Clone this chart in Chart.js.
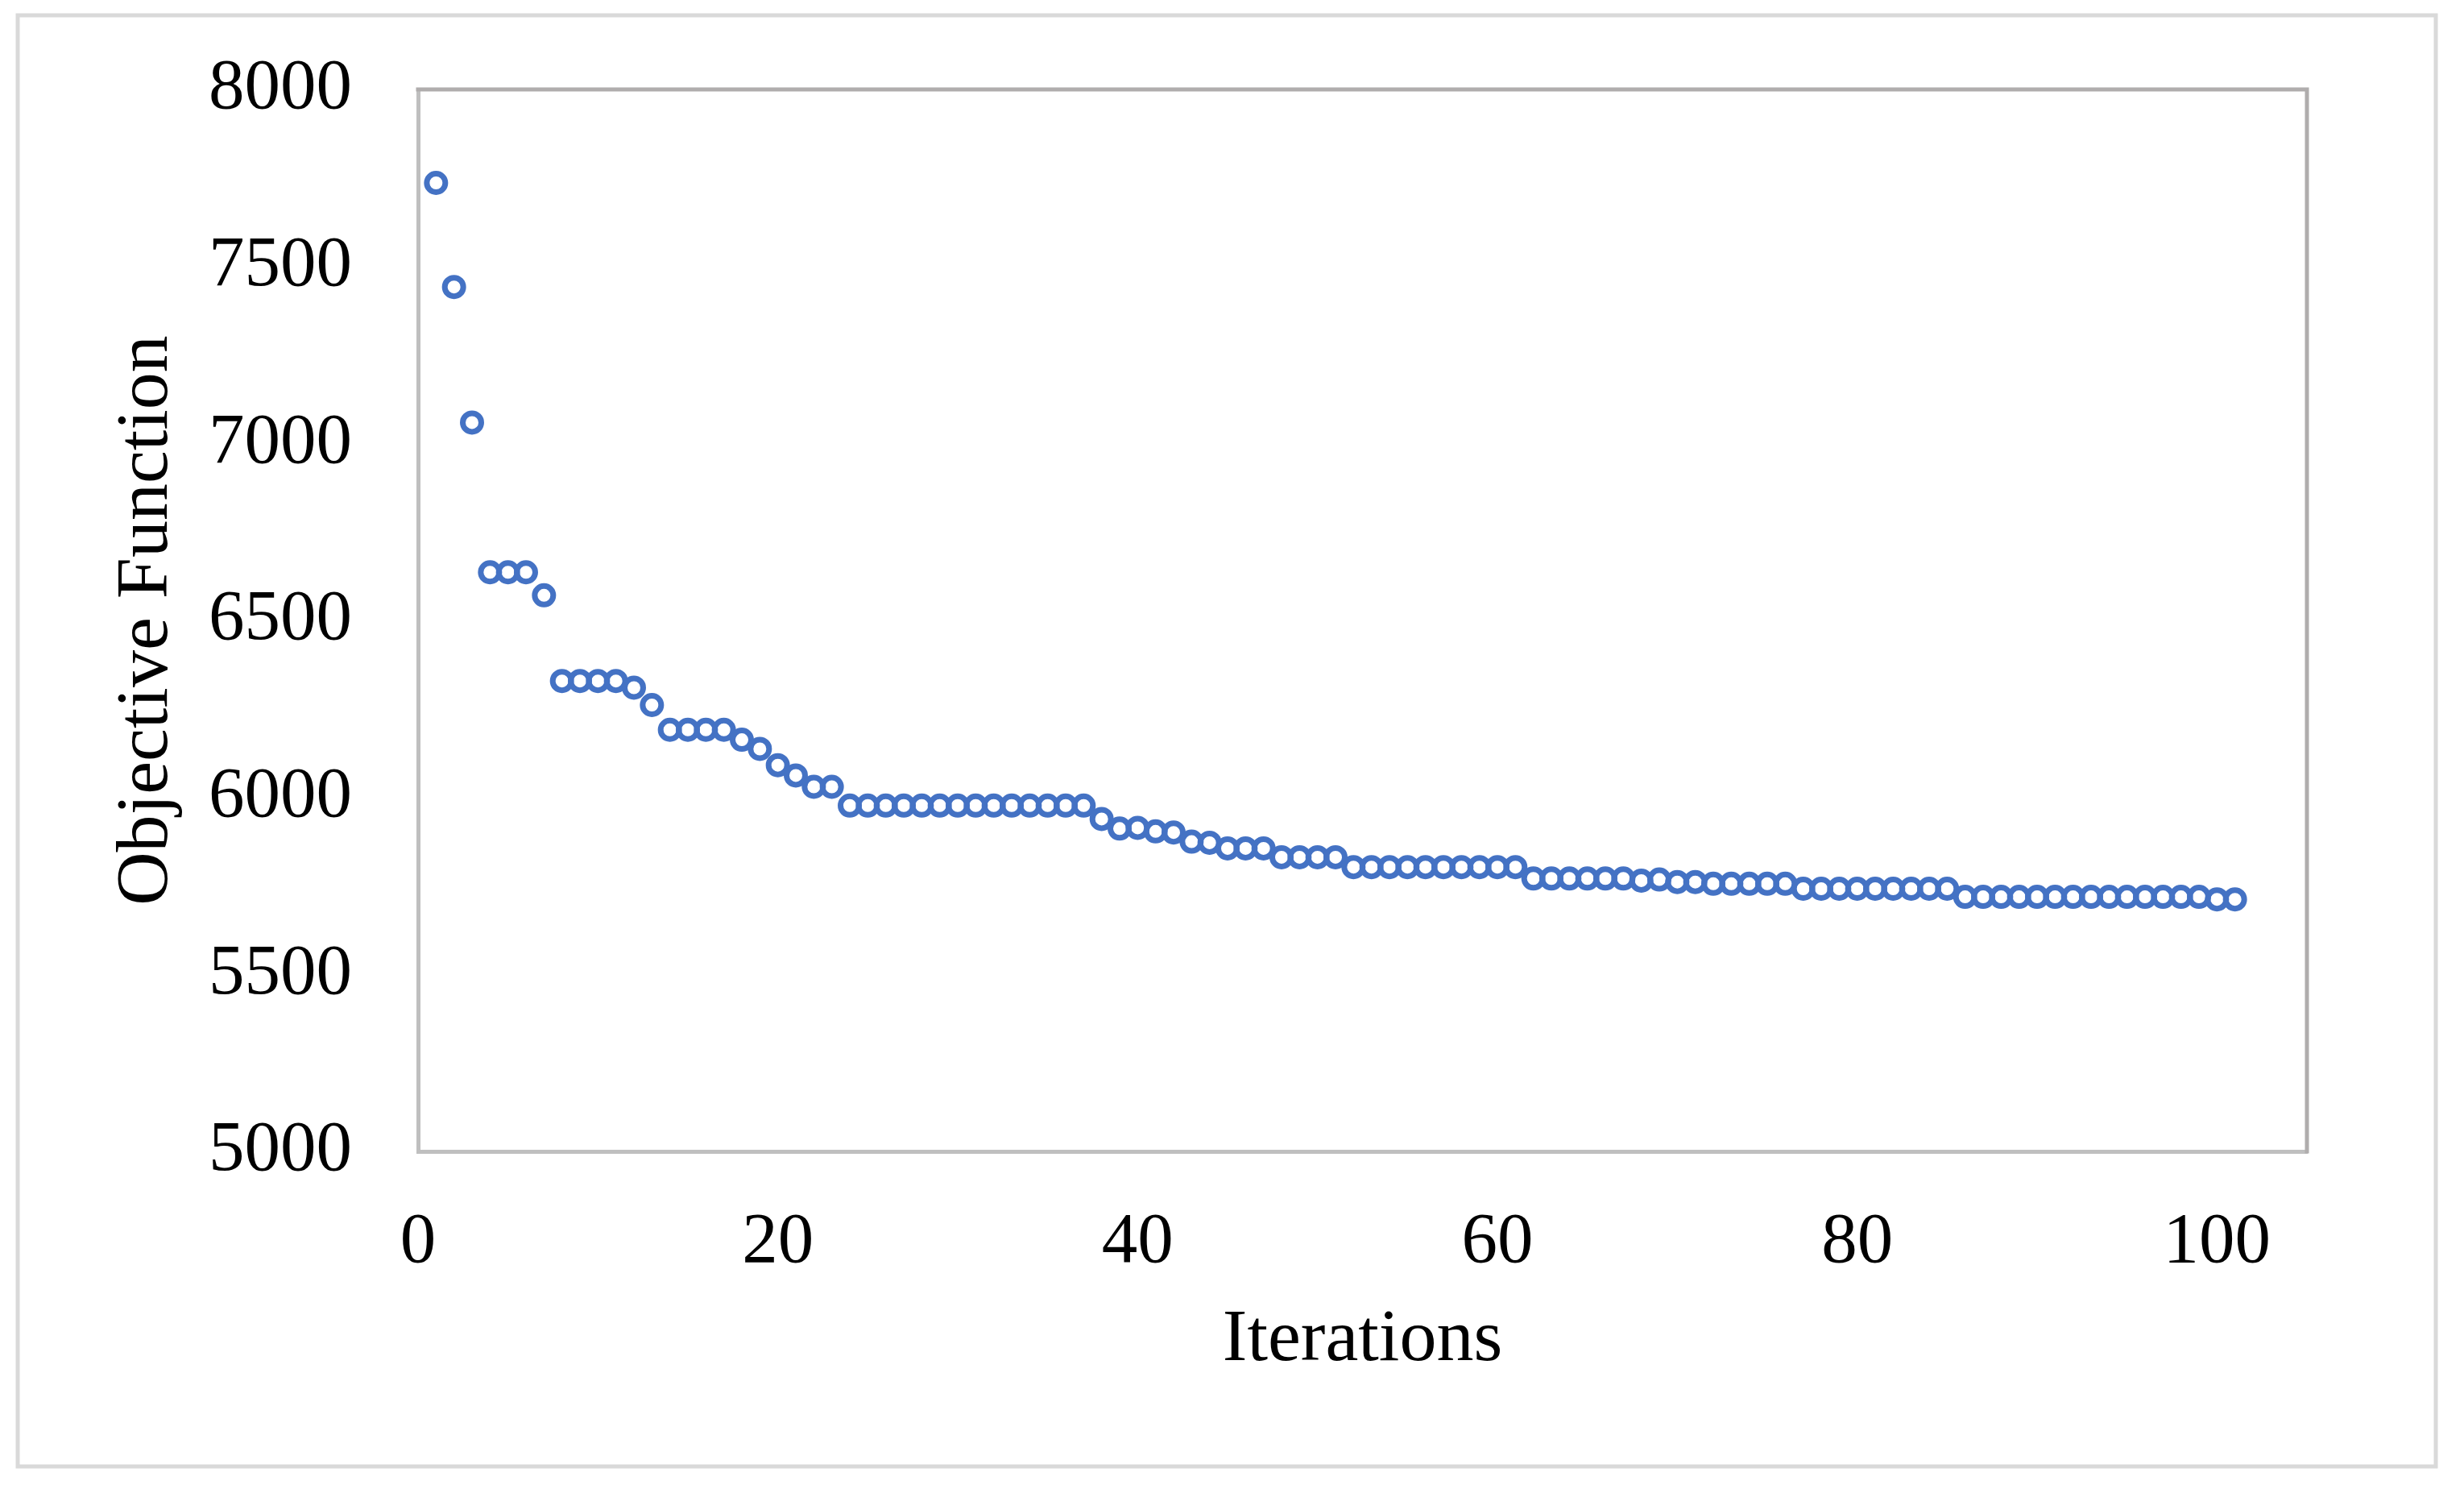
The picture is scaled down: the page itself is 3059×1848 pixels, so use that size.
<!DOCTYPE html>
<html>
<head>
<meta charset="utf-8">
<script src="https://cdn.jsdelivr.net/npm/chart.js@4"></script>
<style>
  html, body { margin: 0; padding: 0; background: #ffffff; }
  #wrap { width: 3059px; height: 1848px; }
</style>
</head>
<body>
<div id="wrap"><canvas id="c" width="3059" height="1848"></canvas></div>
<script>
// ---- data ----
const iterations = [1,2,3,4,5,6,7,8,9,10,11,12,13,14,15,16,17,18,19,20,
  21,22,23,24,25,26,27,28,29,30,31,32,33,34,35,36,37,38,39,40,
  41,42,43,44,45,46,47,48,49,50,51,52,53,54,55,56,57,58,59,60,
  61,62,63,64,65,66,67,68,69,70,71,72,73,74,75,76,77,78,79,80,
  81,82,83,84,85,86,87,88,89,90,91,92,93,94,95,96,97,98,99,100,101];
const objective = [7736,7442,7059,6636,6636,6636,6571,6329,6329,6329,
  6329,6310,6261,6191,6191,6191,6191,6163,6137,6091,
  6062,6030,6030,5977,5977,5977,5977,5977,5977,5977,
  5977,5977,5977,5977,5977,5977,5977,5939,5912,5914,
  5904,5901,5875,5872,5856,5856,5856,5831,5831,5831,
  5831,5803,5803,5803,5803,5803,5803,5803,5803,5803,
  5803,5771,5771,5771,5771,5771,5771,5765,5768,5761,
  5761,5756,5756,5756,5756,5756,5742,5742,5742,5742,
  5742,5742,5742,5742,5742,5719,5719,5719,5719,5719,
  5719,5719,5719,5719,5719,5719,5719,5719,5719,5712,5712];
const xTicks = [0, 20, 40, 60, 80, 100];
const yTicks = [5000, 5500, 6000, 6500, 7000, 7500, 8000];
const xTitle = 'Iterations';
const yTitle = 'Objective Function';

const FONT = "'Liberation Serif', 'Times New Roman', serif";

const frame = {
  id: 'frame',
  beforeDraw(chart) {
    const ctx = chart.ctx;
    ctx.save();
    ctx.fillStyle = '#ffffff';
    ctx.fillRect(0, 0, chart.width, chart.height);
    ctx.strokeStyle = '#d9d9d9';
    ctx.lineWidth = 5;
    ctx.strokeRect(22, 19, 3002, 1801);
    ctx.restore();
  },
  afterDatasetsDraw(chart) {
    const {ctx, chartArea: a} = chart;
    ctx.save();
    ctx.strokeStyle = '#b0adad';
    ctx.lineWidth = 5;
    ctx.beginPath();
    ctx.moveTo(a.left - 2.5, a.top);
    ctx.lineTo(a.right, a.top);
    ctx.lineTo(a.right, a.bottom + 2.5);
    ctx.stroke();
    ctx.restore();
  }
};

new Chart(document.getElementById('c'), {
  type: 'scatter',
  data: {
    datasets: [{
      data: iterations.map((x, i) => ({x: x, y: objective[i]})),
      pointStyle: 'circle',
      pointRadius: 11.5,
      pointHoverRadius: 11.5,
      pointBorderWidth: 7,
      pointHoverBorderWidth: 7,
      pointBorderColor: '#4472c4',
      pointBackgroundColor: 'rgba(255,255,255,0)',
      borderColor: '#4472c4',
      backgroundColor: 'rgba(255,255,255,0)',
      showLine: false
    }]
  },
  options: {
    responsive: false,
    devicePixelRatio: 1,
    animation: false,
    events: [],
    layout: { padding: { left: 0, top: 111, right: 195, bottom: 0 } },
    plugins: { legend: { display: false }, tooltip: { enabled: false } },
    scales: {
      x: {
        type: 'linear',
        min: 0, max: 105,
        afterBuildTicks: s => { s.ticks = xTicks.map(v => ({value: v})); },
        afterFit: s => { s.height = 419; s.paddingLeft = 0; s.paddingRight = 0; },
        grid: { display: false, drawTicks: false },
        border: { display: true, color: '#bfbfbf', width: 5 },
        ticks: { color: '#000', font: { family: FONT, size: 89 }, padding: 60, maxRotation: 0, autoSkip: false,
                 callback: v => String(v) },
        title: { display: true, text: xTitle, color: '#000', font: { family: FONT, size: 92 }, padding: { top: 0, bottom: 129 } }
      },
      y: {
        type: 'linear',
        min: 5000, max: 8000,
        afterBuildTicks: s => { s.ticks = yTicks.map(v => ({value: v})); },
        afterFit: s => { s.width = 519; s.paddingTop = 0; s.paddingBottom = 0; },
        grid: { display: false, drawTicks: false },
        border: { display: true, color: '#bfbfbf', width: 5 },
        ticks: { color: '#000', font: { family: FONT, size: 89 }, padding: 82, autoSkip: false,
                 callback: v => String(v) },
        title: { display: true, text: yTitle, color: '#000', font: { family: FONT, size: 92 }, padding: { top: 128, bottom: 0 } }
      }
    }
  },
  plugins: [frame]
});
</script>
</body>
</html>
